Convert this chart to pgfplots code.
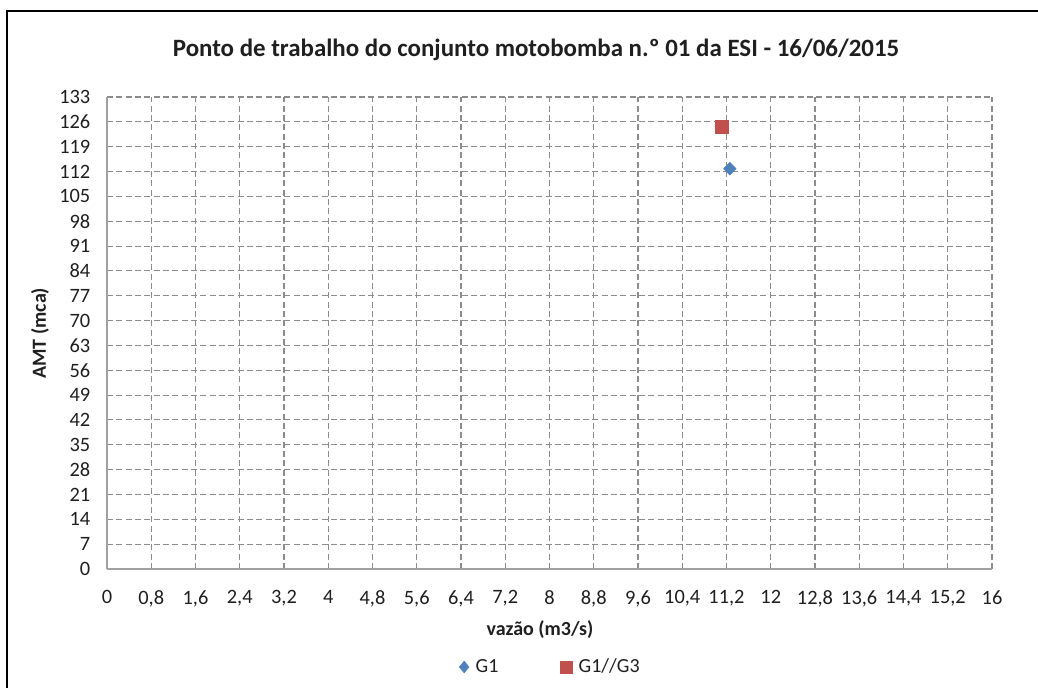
\documentclass[border=0pt]{standalone}
\usepackage{pgfplots}
\pgfplotsset{compat=1.18}
\usepackage{fontspec}
\setmainfont{Carlito}
\definecolor{gridc}{HTML}{8C8C8C}
\definecolor{axisc}{HTML}{A0A0A0}
\definecolor{bluem}{HTML}{4F81BD}
\definecolor{redm}{HTML}{C0504D}
\definecolor{txt}{HTML}{1F1F1F}
\begin{document}
\begin{tikzpicture}[x=1pt,y=1pt]
\path[use as bounding box] (0,0) rectangle (778.5,-516);
\draw[line width=1.8pt] (5.25,-516) -- (5.25,-8.25) -- (778.5,-8.25);
\begin{axis}[
  at={(80.25pt,-426.75pt)}, anchor=south west,
  scale only axis, width=663.75pt, height=354pt,
  xmin=0, xmax=16, ymin=0, ymax=133,
  xtick={0,0.8,1.6,2.4,3.2,4,4.8,5.6,6.4,7.2,8,8.8,9.6,10.4,11.2,12,12.8,13.6,14.4,15.2,16},
  xticklabels={0,{0,8},{1,6},{2,4},{3,2},4,{4,8},{5,6},{6,4},{7,2},8,{8,8},{9,6},{10,4},{11,2},12,{12,8},{13,6},{14,4},{15,2},16},
  ytick={0,7,...,133},
  /pgf/number format/assume math mode=true,
  axis lines*=left,
  axis line style={axisc, line width=1pt, -},
  major tick length=0pt,
  grid=major,
  major grid style={gridc, line width=0.8pt, dash pattern=on 4.5pt off 2.5pt},
  tick label style={font=\fontsize{15.3}{18}\selectfont, text=txt},
  xticklabel style={yshift=-12.5pt},
  yticklabel style={xshift=-9pt},
  clip=false,
  legend style={at={(0.5015,-0.2076)}, anchor=center, draw=none, fill=none,
    legend columns=2, font=\fontsize{15}{18}\selectfont, text=txt,
    /tikz/every even column/.append style={column sep=44pt}},
  legend image code/.code={\draw[#1] plot coordinates {(0pt,0pt)};},
]
\addplot[only marks, mark=diamond*, mark size=4.8pt, color=bluem, mark options={xscale=1.3}, forget plot] coordinates {(11.26,112.8)};
\addplot[only marks, mark=square*, mark size=4.75pt, color=redm, forget plot] coordinates {(11.11,124.6)};
\addlegendimage{only marks, mark=diamond*, mark size=4.4pt, color=bluem, mark options={xscale=1.1}}
\addlegendentry{\hspace{3pt}G1}
\addlegendimage{only marks, mark=square*, mark size=4.6pt, color=redm}
\addlegendentry{\hspace{3pt}G1//G3}
\end{axis}
\node[font=\bfseries\fontsize{18.7}{22}\selectfont, text=txt] at (402,-37.5) {Ponto de trabalho do conjunto motobomba n.º 01 da ESI - 16/06/2015};
\node[font=\bfseries\fontsize{15}{18}\selectfont, text=txt, rotate=90] at (30,-250) {AMT (mca)};
\node[font=\bfseries\fontsize{15}{18}\selectfont, text=txt] at (405,-472.5) {vazão (m3/s)};
\end{tikzpicture}
\end{document}
